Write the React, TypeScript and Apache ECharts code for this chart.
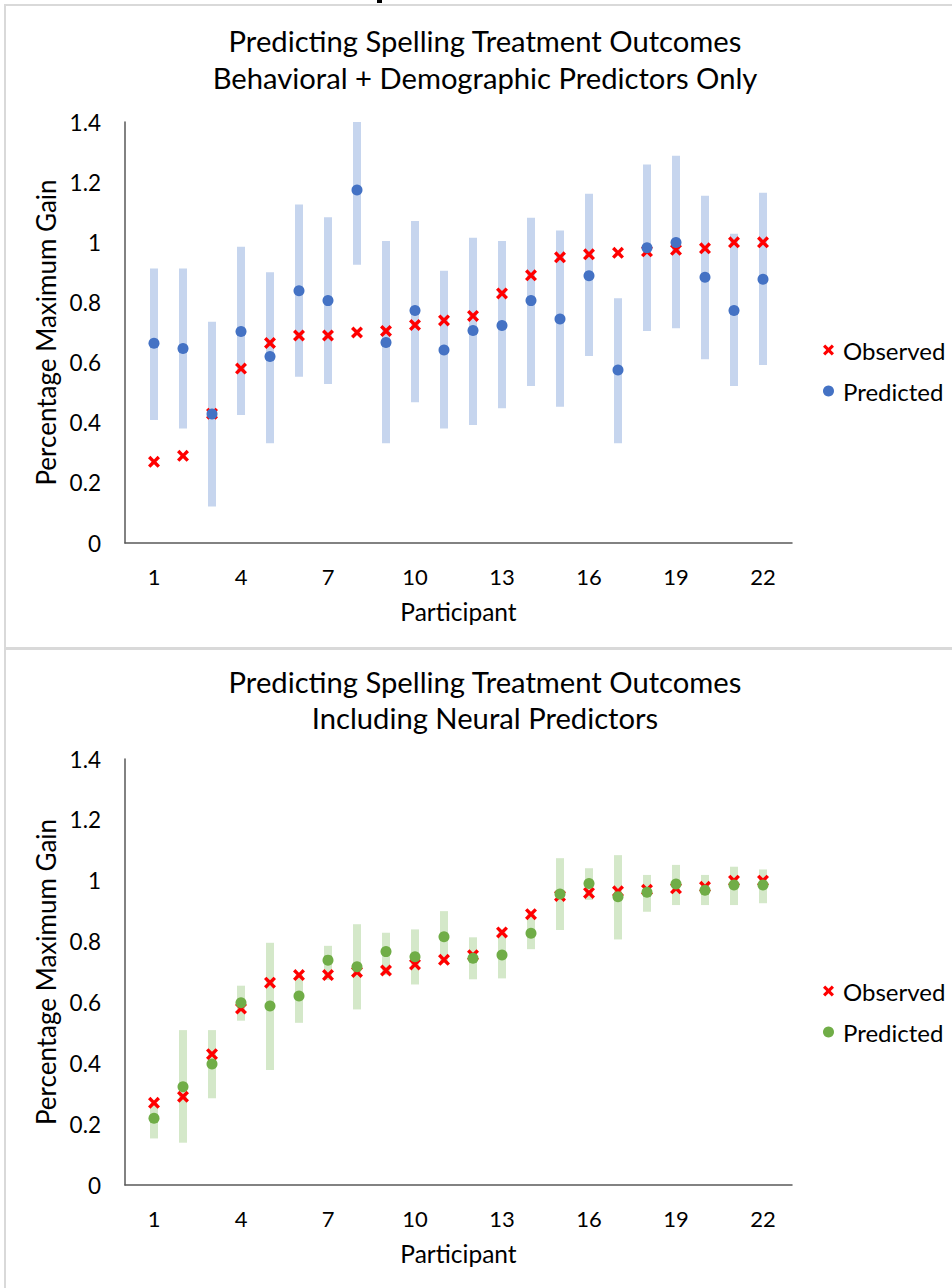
import React, { useEffect, useRef } from "react";
import * as echarts from "echarts";

const participants = [1, 2, 3, 4, 5, 6, 7, 8, 9, 10, 11, 12, 13, 14, 15, 16, 17, 18, 19, 20, 21, 22];
const xTickLabels = [1, 4, 7, 10, 13, 16, 19, 22];

const observed = [0.27, 0.29, 0.43, 0.58, 0.665, 0.69, 0.69, 0.7, 0.705, 0.725, 0.74, 0.755, 0.83, 0.89, 0.95, 0.96, 0.965, 0.97, 0.975, 0.98, 1.0, 1.0];

// Behavioral + demographic model
const predictedBehav = [0.664, 0.647, 0.429, 0.703, 0.62, 0.839, 0.806, 1.174, 0.667, 0.773, 0.642, 0.707, 0.723, 0.806, 0.745, 0.889, 0.575, 0.982, 0.999, 0.884, 0.773, 0.877];
const lowerBehav = [0.409, 0.381, 0.121, 0.426, 0.332, 0.553, 0.529, 0.925, 0.332, 0.468, 0.381, 0.392, 0.448, 0.522, 0.453, 0.622, 0.332, 0.705, 0.714, 0.611, 0.522, 0.592];
const upperBehav = [0.913, 0.913, 0.736, 0.985, 0.9, 1.126, 1.083, 1.4, 1.004, 1.071, 0.905, 1.015, 1.004, 1.082, 1.039, 1.161, 0.814, 1.259, 1.288, 1.155, 1.028, 1.165];

// Including neural predictors
const predictedNeural = [0.219, 0.323, 0.398, 0.599, 0.588, 0.621, 0.739, 0.717, 0.767, 0.75, 0.816, 0.745, 0.756, 0.827, 0.956, 0.991, 0.947, 0.962, 0.989, 0.969, 0.986, 0.986];
const lowerNeural = [0.153, 0.139, 0.285, 0.54, 0.378, 0.533, 0.674, 0.577, 0.69, 0.659, 0.73, 0.676, 0.679, 0.775, 0.838, 0.937, 0.807, 0.898, 0.92, 0.92, 0.92, 0.926];
const upperNeural = [0.268, 0.509, 0.509, 0.655, 0.796, 0.69, 0.786, 0.857, 0.829, 0.84, 0.9, 0.814, 0.83, 0.89, 1.074, 1.041, 1.084, 1.019, 1.052, 1.019, 1.046, 1.037];

const FONT = "Lato";
const X_PATH = "path://M0,2L2,0L5,3L8,0L10,2L7,5L10,8L8,10L5,7L2,10L0,8L3,5Z";
const RED = "#ff0000";
const BLUE = "#4472c4";
const BLUE_LIGHT = "#c6d5ee";
const GREEN = "#70ad47";
const GREEN_LIGHT = "#d4e8c9";

function makeAxes(gridIndex: number) {
  const xAxis = {
    type: "value",
    gridIndex,
    min: 0,
    max: 23,
    interval: 1,
    axisLine: { show: true, lineStyle: { color: "#595959", width: 1.5 } },
    axisTick: { show: false },
    splitLine: { show: false },
    axisLabel: {
      fontFamily: FONT,
      fontSize: 22,
      color: "#000",
      margin: 22,
      formatter: (v: number) => (xTickLabels.includes(v) ? String(v) : ""),
    },
    name: "Participant",
    nameLocation: "middle",
    nameGap: 56,
    nameTextStyle: { fontFamily: FONT, fontSize: 24.5, color: "#000" },
  };
  const yAxis = {
    type: "value",
    gridIndex,
    min: 0,
    max: 1.4,
    interval: 0.2,
    axisLine: { show: true, lineStyle: { color: "#595959", width: 1.5 } },
    axisTick: { show: false },
    splitLine: { show: false },
    axisLabel: { fontFamily: FONT, fontSize: 22.5, color: "#000", margin: 24 },
    name: "Percentage Maximum Gain",
    nameLocation: "middle",
    nameGap: 62,
    nameTextStyle: { fontFamily: FONT, fontSize: 26, color: "#000" },
  };
  return { xAxis, yAxis };
}

function makeSeries(idx: number, pred: number[], lo: number[], hi: number[], color: string, light: string) {
  return [
    {
      type: "custom",
      name: "range" + idx,
      xAxisIndex: idx,
      yAxisIndex: idx,
      data: participants.map((p, i) => [p, lo[i], hi[i]]),
      encode: { x: 0, y: [1, 2] },
      z: 1,
      renderItem: (_params: any, api: any) => {
        const x = api.value(0);
        const a = api.coord([x, api.value(1)]);
        const b = api.coord([x, api.value(2)]);
        return {
          type: "line",
          shape: { x1: a[0], y1: a[1], x2: b[0], y2: b[1] },
          style: { stroke: light, lineWidth: 8, lineCap: "butt" },
        };
      },
    },
    {
      type: "scatter",
      name: "Observed",
      xAxisIndex: idx,
      yAxisIndex: idx,
      symbol: X_PATH,
      symbolSize: 12,
      itemStyle: { color: RED, opacity: 1 },
      z: 3,
      data: participants.map((p, i) => [p, observed[i]]),
    },
    {
      type: "scatter",
      name: "Predicted",
      xAxisIndex: idx,
      yAxisIndex: idx,
      symbol: "circle",
      symbolSize: 11,
      itemStyle: { color, opacity: 1 },
      z: 4,
      data: participants.map((p, i) => [p, pred[i]]),
    },
  ];
}

function makeLegend(top: number, color: string) {
  return {
    orient: "vertical",
    left: 818,
    top,
    itemWidth: 11,
    itemHeight: 11,
    itemGap: 17,
    selectedMode: false,
    textStyle: { fontFamily: FONT, fontSize: 24, color: "#000", padding: [0, 0, 0, 4] },
    data: [
      { name: "Observed", icon: X_PATH, itemStyle: { color: RED, opacity: 1 } },
      { name: "Predicted", icon: "circle", itemStyle: { color, opacity: 1 } },
    ],
  };
}

function titleText(text: string, y: number) {
  return {
    type: "text",
    x: 485,
    y,
    style: {
      text,
      fontFamily: FONT,
      fontSize: 29.2,
      fill: "#000",
      align: "center",
      verticalAlign: "middle",
    },
  };
}

export default function App() {
  const ref = useRef<HTMLDivElement>(null);
  useEffect(() => {
    if (!ref.current) return;
    const chart = echarts.init(ref.current, undefined, { renderer: "svg" });
    const a0 = makeAxes(0);
    const a1 = makeAxes(1);
    chart.setOption({
      animation: false,
      backgroundColor: "#ffffff",
      grid: [
        { left: 125, top: 122, width: 667, height: 421 },
        { left: 125, top: 759, width: 667, height: 426 },
      ],
      xAxis: [a0.xAxis, a1.xAxis],
      yAxis: [a0.yAxis, a1.yAxis],
      legend: [makeLegend(333, BLUE), makeLegend(974, GREEN)],
      series: [
        ...makeSeries(0, predictedBehav, lowerBehav, upperBehav, BLUE, BLUE_LIGHT),
        ...makeSeries(1, predictedNeural, lowerNeural, upperNeural, GREEN, GREEN_LIGHT),
      ],
      graphic: [
        { type: "rect", shape: { x: 5, y: 5, width: 1000, height: 643 }, style: { fill: "none", stroke: "#d9d9d9", lineWidth: 2 }, silent: true },
        { type: "rect", shape: { x: 5, y: 649, width: 1000, height: 800 }, style: { fill: "none", stroke: "#d9d9d9", lineWidth: 2 }, silent: true },
        { type: "rect", shape: { x: 377, y: 0, width: 5, height: 3 }, style: { fill: "#000" }, silent: true },
        titleText("Predicting Spelling Treatment Outcomes", 40),
        titleText("Behavioral + Demographic Predictors Only", 77),
        titleText("Predicting Spelling Treatment Outcomes", 681),
        titleText("Including Neural Predictors", 717),
      ],
    });
    return () => chart.dispose();
  }, []);
  return <div ref={ref} style={{ position: "absolute", left: 0, top: 0, width: 952, height: 1288 }} />;
}
